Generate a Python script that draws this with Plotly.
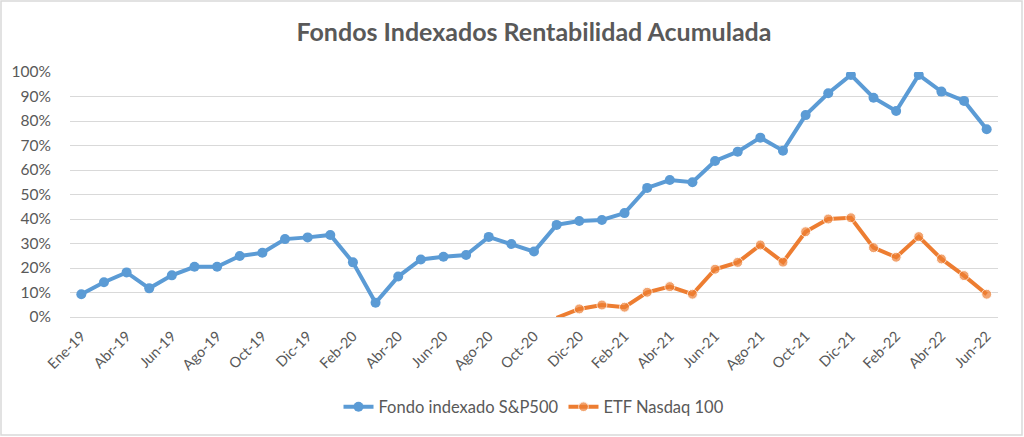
import plotly.graph_objects as go

# Categorias (meses) y series
meses = [
    "Ene-19", "Mar-19", "Abr-19", "May-19", "Jun-19", "Jul-19", "Ago-19", "Sep-19",
    "Oct-19", "Nov-19", "Dic-19",
    "Ene-20", "Feb-20", "Mar-20", "Abr-20", "May-20", "Jun-20", "Jul-20", "Ago-20",
    "Sep-20", "Oct-20", "Nov-20", "Dic-20",
    "Ene-21", "Feb-21", "Mar-21", "Abr-21", "May-21", "Jun-21", "Jul-21", "Ago-21",
    "Sep-21", "Oct-21", "Nov-21", "Dic-21",
    "Ene-22", "Feb-22", "Mar-22", "Abr-22", "May-22", "Jun-22",
]

sp500 = [
    0.093, 0.142, 0.182, 0.117, 0.170, 0.205, 0.205, 0.249, 0.262, 0.318, 0.325,
    0.335, 0.223, 0.058, 0.165, 0.235, 0.246, 0.253, 0.327, 0.298, 0.267,
    0.376, 0.392, 0.396, 0.424, 0.527, 0.559, 0.550, 0.637, 0.675, 0.732,
    0.679, 0.824, 0.913, 0.988, 0.895, 0.841, 0.988, 0.920, 0.882, 0.766,
]

nasdaq = [None] * 21 + [
    -0.003, 0.033, 0.049, 0.040, 0.101, 0.124, 0.093, 0.195, 0.223, 0.294,
    0.224, 0.348, 0.400, 0.405, 0.283, 0.244, 0.328, 0.237, 0.169, 0.093,
]

ticks_x = meses[::2]

AZUL = "#5B9BD5"
NARANJA = "#ED7D31"
GRIS = "#595959"
FONT = "Lato"

fig = go.Figure()

fig.add_trace(go.Scatter(
    x=meses, y=sp500,
    mode="lines+markers",
    name="Fondo indexado S&P500",
    line=dict(color=AZUL, width=4),
    marker=dict(color=AZUL, size=10),
))

# puntos por debajo de 0% quedan recortados (sin marcador)
sizes = [0 if (v is not None and v < 0) else 10 for v in nasdaq]
fig.add_trace(go.Scatter(
    x=meses, y=nasdaq,
    mode="lines+markers",
    name="ETF Nasdaq 100",
    line=dict(color=NARANJA, width=4),
    marker=dict(color=NARANJA, size=sizes),
))

# borde del area del grafico (estilo Excel)
L, R, T, B = 70, 26, 72, 120
W, H = 1024, 437
pw, ph = W - L - R, H - T - B
fig.add_shape(
    type="rect", xref="paper", yref="paper",
    x0=(1 - L) / pw, x1=(1022 - L) / pw,
    y0=(T + ph - 435) / ph, y1=(T + ph - 1) / ph,
    line=dict(color="#D9D9D9", width=1.5),
    layer="below",
)

fig.update_layout(
    width=W, height=H,
    title=dict(
        text="<b>Fondos Indexados Rentabilidad Acumulada</b>",
        x=0.5, xref="paper", xanchor="center",
        y=1 - 32 / H, yanchor="middle",
        font=dict(family=FONT, size=25, color=GRIS),
    ),
    font=dict(family=FONT, color=GRIS),
    xaxis=dict(
        type="category",
        range=[-0.5, len(meses) - 0.5],
        tickmode="array",
        tickvals=ticks_x,
        ticktext=ticks_x,
        tickangle=-45,
        tickfont=dict(size=14.5, color=GRIS),
        showgrid=False,
        showline=True, linecolor="#D9D9D9", linewidth=1,
        ticks="outside", ticklen=4, tickcolor="rgba(0,0,0,0)",
        automargin=False,
    ),
    yaxis=dict(
        range=[0, 1.0],
        dtick=0.1,
        tickformat=".0%",
        tickfont=dict(size=15.5, color=GRIS),
        gridcolor="#D9D9D9",
        gridwidth=1,
        zeroline=False,
        ticks="outside", ticklen=15, tickcolor="rgba(0,0,0,0)",
        automargin=False,
    ),
    legend=dict(
        orientation="h",
        x=0.5, xanchor="center",
        y=(T + ph - 407) / ph, yanchor="middle",
        font=dict(size=16.5, color=GRIS),
    ),
    plot_bgcolor="white",
    paper_bgcolor="white",
    margin=dict(l=L, r=R, t=T, b=B, autoexpand=False),
)

fig.write_html(
    "out.html",
    config={"displayModeBar": False},
    post_script="document.body.style.margin = '0';",
)
